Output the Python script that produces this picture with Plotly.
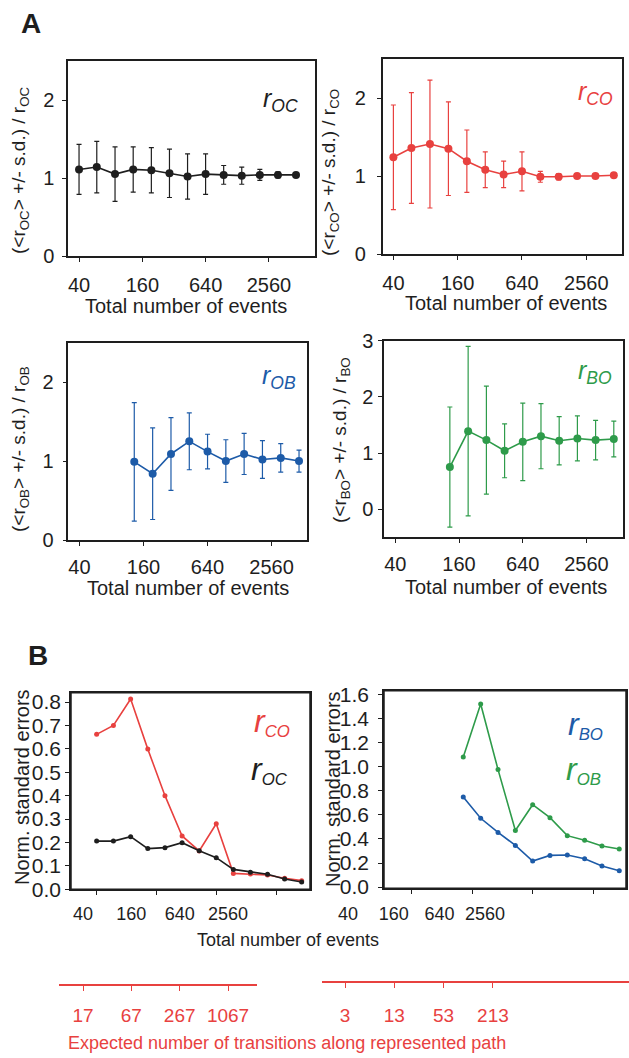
import plotly.graph_objects as go

W, H = 629, 1058
FONT = "Liberation Sans, Arial, sans-serif"
BLACK = "#1e1e1e"
RED = "#e8413f"
BLUE = "#1d5ba8"
GREEN = "#2e9b4a"

# ---------------- data ----------------
events_all = [40, 59, 88, 131, 195, 290, 431, 640, 951, 1413, 2100, 3121, 4637]
events_late = [131, 195, 290, 431, 640, 951, 1413, 2100, 3121, 4637]
tick_events = [40, 160, 640, 2560]
tick_trans_left = ["17", "67", "267", "1067"]
tick_trans_right = ["3", "13", "53", "213"]

roc_mean = [1.11, 1.14, 1.05, 1.11, 1.10, 1.06, 1.02, 1.05, 1.04, 1.03, 1.04, 1.04, 1.04]
roc_sd = [0.32, 0.33, 0.35, 0.29, 0.29, 0.31, 0.29, 0.26, 0.12, 0.11, 0.07, 0.04, 0.02]
rco_mean = [1.24, 1.36, 1.41, 1.35, 1.19, 1.08, 1.02, 1.06, 0.99, 0.99, 1.00, 1.00, 1.01]
rco_sd = [0.67, 0.71, 0.82, 0.60, 0.40, 0.23, 0.17, 0.25, 0.07, 0.04, 0.03, 0.02, 0.02]
rob_mean = [0.99, 0.84, 1.09, 1.25, 1.12, 1.00, 1.09, 1.02, 1.04, 1.00]
rob_sd = [0.75, 0.58, 0.46, 0.36, 0.22, 0.27, 0.26, 0.24, 0.18, 0.14]
rbo_mean = [0.75, 1.39, 1.23, 1.04, 1.20, 1.30, 1.22, 1.26, 1.23, 1.25]
rbo_sd = [1.07, 1.51, 0.96, 0.48, 0.69, 0.58, 0.43, 0.40, 0.35, 0.32]

se_co = [0.662, 0.700, 0.813, 0.599, 0.400, 0.228, 0.164, 0.280, 0.068, 0.065, 0.061, 0.047, 0.037]
se_oc = [0.206, 0.206, 0.225, 0.174, 0.178, 0.199, 0.165, 0.135, 0.085, 0.073, 0.064, 0.044, 0.031]
se_ob = [1.08, 1.52, 0.975, 0.47, 0.684, 0.576, 0.427, 0.388, 0.341, 0.316]
se_bo = [0.748, 0.571, 0.454, 0.346, 0.216, 0.263, 0.266, 0.235, 0.175, 0.136]


# ---------------- helpers ----------------
def dx(a, b):
    return [a / W, b / W]


def dy(top, bottom):
    return [1 - bottom / H, 1 - top / H]


def px(x):
    return x / W


def py(y):
    return 1 - y / H


fig = go.Figure()


def err_trace(x, y, sd, color, ax):
    fig.add_trace(go.Scatter(
        x=x, y=y, mode="lines+markers",
        error_y=dict(type="data", array=sd, visible=True, color=color,
                     thickness=1.2, width=2.5),
        line=dict(color=color, width=1.6),
        marker=dict(size=8, color=color),
        xaxis="x" + ax, yaxis="y" + ax, showlegend=False, hoverinfo="skip"))


def se_trace(x, y, color, ax):
    fig.add_trace(go.Scatter(
        x=x, y=y, mode="lines+markers",
        line=dict(color=color, width=1.6),
        marker=dict(size=5, color=color),
        xaxis="x" + ax, yaxis="y" + ax, showlegend=False, hoverinfo="skip"))


err_trace(events_all, roc_mean, roc_sd, BLACK, "")
err_trace(events_all, rco_mean, rco_sd, RED, "2")
err_trace(events_late, rob_mean, rob_sd, BLUE, "3")
err_trace(events_late, rbo_mean, rbo_sd, GREEN, "4")
se_trace(events_all, se_co, RED, "5")
se_trace(events_all, se_oc, BLACK, "5")
se_trace(events_late, se_ob, GREEN, "6")
se_trace(events_late, se_bo, BLUE, "6")

# empty traces so the label-only axes get their own subplots
for k in ["7", "8", "9", "10"]:
    fig.add_trace(go.Scatter(x=[], y=[], xaxis="x" + k, yaxis="y" + k,
                             showlegend=False, hoverinfo="skip"))


def xax(domain, rng, anchor, labels=True, standoff=6):
    return dict(type="log", domain=domain, range=rng, anchor=anchor,
                tickvals=tick_events, ticktext=[str(v) for v in tick_events],
                showticklabels=labels, showline=True, linecolor=BLACK,
                linewidth=1.5, mirror=True, ticks="outside", ticklen=4,
                tickwidth=1.2, tickcolor=BLACK, showgrid=False, zeroline=False,
                automargin=False,
                tickfont=dict(size=20, color=BLACK, family=FONT),
                ticklabelstandoff=standoff)


def yax(domain, rng, anchor, tickvals, ticktext, standoff=4, size=20):
    return dict(domain=domain, range=rng, anchor=anchor, tickvals=tickvals,
                ticktext=ticktext, showline=True, linecolor=BLACK,
                linewidth=1.5, mirror=True, ticks="outside", ticklen=4,
                tickwidth=1.2, tickcolor=BLACK, showgrid=False, zeroline=False,
                automargin=False,
                tickfont=dict(size=size, color=BLACK, family=FONT),
                ticklabelstandoff=standoff)


def label_axis(domain, rng, anchor, text, color, line, standoff, size=18):
    d = dict(type="log", domain=domain, range=rng, anchor=anchor,
             tickvals=tick_events, ticktext=text, showgrid=False,
             zeroline=False, automargin=False,
             tickfont=dict(size=size, color=color, family=FONT),
             ticklabelstandoff=standoff)
    if line:
        d.update(showline=True, linecolor=color, linewidth=1.5,
                 ticks="outside", ticklen=5, tickcolor=color, tickwidth=1.2)
    else:
        d.update(showline=False, ticks="")
    return d


def hidden_y(domain, anchor):
    return dict(domain=domain, range=[0, 1], visible=False, anchor=anchor,
                automargin=False)


b1_ticks = [0.0, 0.1, 0.2, 0.3, 0.4, 0.5, 0.6, 0.7, 0.8]
b2_ticks = [0.0, 0.2, 0.4, 0.6, 0.8, 1.0, 1.2, 1.4, 1.6]

layout = dict(
    width=W, height=H, margin=dict(l=0, r=0, t=0, b=0, autoexpand=False),
    paper_bgcolor="white", plot_bgcolor="rgba(0,0,0,0)", showlegend=False,
    font=dict(family=FONT, color=BLACK),
    xaxis=xax(dx(68, 315), [1.497, 3.847], "y"),
    yaxis=yax(dy(61, 256), [0, 2.5], "x", [0, 1, 2], ["0", "1", "2"], 4),
    xaxis2=xax(dx(382.7, 621.7), [1.502, 3.740], "y2"),
    yaxis2=yax(dy(59, 254), [0, 2.5], "x2", [0, 1, 2], ["0", "1", "2"], 7),
    xaxis3=xax(dx(68.3, 307.3), [1.497, 3.744], "y3", standoff=4),
    yaxis3=yax(dy(342.7, 540), [0, 2.5], "x3", [0, 1, 2], ["0", "1", "2"], 5),
    xaxis4=xax(dx(384, 623.3), [1.495, 3.756], "y4", standoff=4),
    yaxis4=yax(dy(340.7, 537.3), [-0.5, 3.0], "x4", [0, 1, 2, 3],
               ["0", "1", "2", "3"], 1),
    xaxis5=xax(dx(71, 310), [1.344, 3.750], "y5", labels=False),
    yaxis5=yax(dy(692.7, 889.3), [0, 0.84], "x5", b1_ticks,
               ["%.1f" % v for v in b1_ticks], 0, 21),
    xaxis6=xax(dx(384, 626), [1.330, 3.733], "y6", labels=False),
    yaxis6=yax(dy(690.7, 888.3), [-0.01, 1.63], "x6", b2_ticks,
               ["%.1f" % v for v in b2_ticks], 5, 21),
    # label-only axes for B: "40 160 640 2560"
    xaxis7=label_axis(dx(59, 257), [1.303, 3.769], "y7",
                      [str(v) for v in tick_events], BLACK, False, 5),
    yaxis7=hidden_y(dy(893, 896), "x7"),
    xaxis8=label_axis(dx(322, 629), [1.2595, 5.304], "y8",
                      [str(v) for v in tick_events], BLACK, False, 5),
    yaxis8=hidden_y(dy(893, 896), "x8"),
    # red "expected number of transitions" axes
    xaxis9=label_axis(dx(59, 257), [1.303, 3.769], "y9",
                      tick_trans_left, RED, True, 8, 19),
    yaxis9=hidden_y(dy(964, 984), "x9"),
    xaxis10=label_axis(dx(322, 629), [1.321, 5.07], "y10",
                       tick_trans_right, RED, True, 11, 19),
    yaxis10=hidden_y(dy(961, 981), "x10"),
)

# frames around the B panels (drawn in each panel's axis-domain coordinates)
layout["shapes"] = [
    dict(type="rect", xref="x5 domain", yref="y5 domain", x0=0, x1=1, y0=0, y1=1,
         line=dict(color=BLACK, width=1.5), layer="above"),
    dict(type="rect", xref="x6 domain", yref="y6 domain", x0=0, x1=1, y0=0, y1=1,
         line=dict(color=BLACK, width=1.5), layer="above"),
]

ann = []


def add_text(text, x, y, size, color=BLACK, angle=0, xanchor="center"):
    ann.append(dict(text=text, x=px(x), y=py(y), xref="paper", yref="paper",
                    showarrow=False, xanchor=xanchor, yanchor="middle",
                    textangle=angle, font=dict(size=size, color=color, family=FONT)))


# panel letters
add_text("<b>A</b>", 31, 24, 28)
add_text("<b>B</b>", 38, 655, 28)

# A y-axis titles
add_text("(&lt;r<sub>OC</sub>&gt; +/- s.d.) / r<sub>OC</sub>", 20, 170, 19, angle=-90)
add_text("(&lt;r<sub>CO</sub>&gt; +/- s.d.) / r<sub>CO</sub>", 330, 173, 19, angle=-90)
add_text("(&lt;r<sub>OB</sub>&gt; +/- s.d.) / r<sub>OB</sub>", 20, 449, 19, angle=-90)
add_text("(&lt;r<sub>BO</sub>&gt; +/- s.d.) / r<sub>BO</sub>", 341, 440, 19, angle=-90)

# A x titles
add_text("Total number of events", 186, 306, 20)
add_text("Total number of events", 506, 303, 20)
add_text("Total number of events", 188, 588, 20)
add_text("Total number of events", 506, 587, 20)

# A inline labels
add_text("<i>r<sub>OC</sub></i>", 300, 100, 25, BLACK, xanchor="right")
add_text("<i>r<sub>CO</sub></i>", 615, 93, 25, RED, xanchor="right")
add_text("<i>r<sub>OB</sub></i>", 298, 377, 25, BLUE, xanchor="right")
add_text("<i>r<sub>BO</sub></i>", 614, 372, 25, GREEN, xanchor="right")

# B y titles
add_text("Norm. standard errors", 22, 787, 20, angle=-90)
add_text("Norm. standard errors", 333, 789, 20, angle=-90)

# B inline labels
big_r = '<i><span style="font-size:32px">r</span><sub>%s</sub></i>'
add_text(big_r % "CO", 292, 722, 24, RED, xanchor="right")
add_text(big_r % "OC", 290, 770, 24, BLACK, xanchor="right")
add_text(big_r % "BO", 605, 725, 24, BLUE, xanchor="right")
add_text(big_r % "OB", 603, 770, 24, GREEN, xanchor="right")

# bottom titles
add_text("Total number of events", 288, 940, 18)
add_text("Expected number of transitions along represented path", 287, 1043, 18, RED)

layout["annotations"] = ann
fig.update_layout(**layout)

fig.write_html("out.html", config={"displayModeBar": False},
               post_script="document.body.style.margin='0';")
